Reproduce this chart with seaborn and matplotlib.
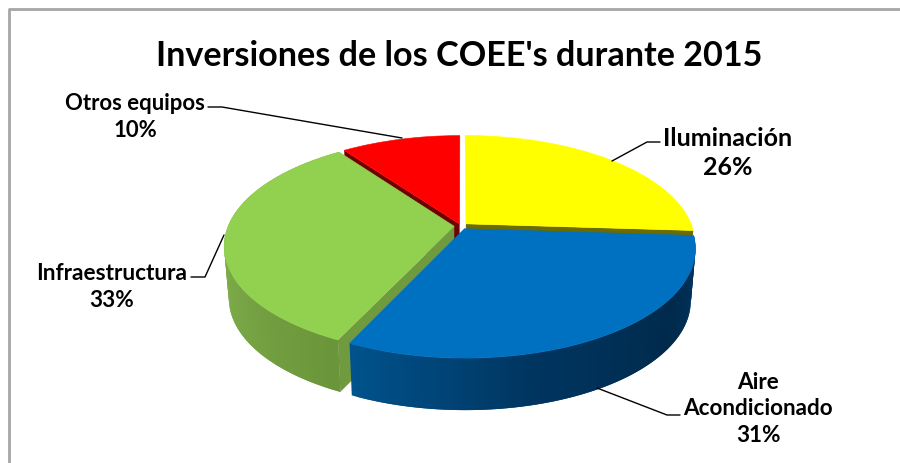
import numpy as np
import matplotlib
matplotlib.use("Agg")
import matplotlib.pyplot as plt
from matplotlib.transforms import Transform
import seaborn as sns

title = "Inversiones de los COEE's durante 2015"
labels = ["Iluminación", "Aire\nAcondicionado", "Infraestructura", "Otros equipos"]
values = [26, 31, 33, 10]
colors = ["#FFFF00", "#0070C0", "#92D050", "#FF0000"]
explode = [0.03, 0.03, 0.03, 0.02]

sns.set_theme(style="white")
plt.rcParams['font.family'] = ['Lato', 'DejaVu Sans']

# perspective of the tilted pie, pixels of the reference
CX, CY = 461, 227
RX, A, K = 226, 105, 0.18
DEPTH = 52


def project(u, v, low=False):
    w = 1 + K * v
    x = CX + RX * u / w
    y = CY - A * v / w
    if low:
        x = CX + (x - CX) * 0.98
        y = y + DEPTH
    return x, y


class Tilt(Transform):
    input_dims = output_dims = 2

    def transform_non_affine(self, values):
        x, y = project(values[:, 0], values[:, 1])
        return np.column_stack([x, y])


fig, ax = plt.subplots(figsize=(9, 4.64), dpi=100)
ax.set_position([0, 0, 1, 1])
wedges = ax.pie(values, colors=colors, startangle=90, counterclock=False,
                explode=explode, radius=1)[0]
ax.set_aspect("auto")
ax.set_xlim(0, 900)
ax.set_ylim(464, 0)
ax.axis("off")


def arc(w, t1, t2, n=4):
    t = np.radians(np.linspace(t1, t2, n))
    return w.center[0] + np.cos(t), w.center[1] + np.sin(t)


def wall(w, t1, t2, c):
    u, v = arc(w, t1, t2)
    x1, y1 = project(u, v)
    x2, y2 = project(u, v, low=True)
    ax.fill(np.r_[x1, x2[::-1]], np.r_[y1, y2[::-1]], color=c, lw=0, zorder=2)


def cut(w, t, c, z):
    u = np.array([w.center[0], arc(w, t, t)[0][0]])
    v = np.array([w.center[1], arc(w, t, t)[1][0]])
    x1, y1 = project(u, v)
    x2, y2 = project(u, v, low=True)
    ax.fill(np.r_[x1, x2[::-1]], np.r_[y1, y2[::-1]], color=c, lw=0, zorder=z)


def shaded(w, stops, c_stops):
    # each stripe runs on to the far end so no seams show between them
    edges = np.linspace(w.theta1, w.theta2, 90)
    rgb = np.array([matplotlib.colors.to_rgb(c) for c in c_stops])
    for a, b in zip(edges[:-1], edges[2:]):
        f = (a - w.theta1) / (w.theta2 - w.theta1)
        c = [np.interp(f, stops, rgb[:, i]) for i in range(3)]
        wall(w, a, b, c)
    wall(w, edges[-2], edges[-1], c)


yellow, blue, green, red = wedges
# theta runs counter clockwise from +x, so pick the end that faces the viewer
cut(yellow, yellow.theta1, "#6B6B00", 1)
cut(red, red.theta2, "#6E0000", 1)
cut(green, green.theta2, "#6F9A3E", 1.5)
# walls
shaded(green, [0, 0.45, 1], ["#84B44F", "#84B44F", "#6A9439"])
shaded(blue, [0, 0.35, 0.7, 1], ["#00538C", "#003560", "#002A4C", "#00345F"])

for w, c in zip(wedges, colors):
    w.set_transform(Tilt() + ax.transData)
    w.set_zorder(3)
    w.set_edgecolor(c)
    w.set_linewidth(0.4)
blue.set_zorder(3.5)

ax.text(459.5, 56, title, ha="center", va="center", fontsize=24.6,
        fontweight="bold", color="black")

label_xy = [(728, 153), (758, 409), (112, 287), (135, 117)]
label_size = [18, 16.2, 16.3, 15.9]
pct = [f"{v}%" for v in values]
for lab, p, (x, y), s in zip(labels, pct, label_xy, label_size):
    ax.text(x, y, f"{lab}\n{p}", ha="center", va="center", fontsize=s,
            fontweight="bold", color="black", linespacing=1.32)

leaders = [
    ([660, 647, 612], [143, 143, 162]),
    ([680, 667, 597], [416, 416, 389]),
    ([191, 205, 224], [278, 278, 236]),
    ([208, 222, 402], [108, 108, 139]),
]
for xs, ys in leaders:
    ax.plot(xs, ys, color="black", lw=1, zorder=4)

# chart frame, only top and left show
ax.plot([9, 9, 900], [464, 10, 10], color="#A6A6A6", lw=2, zorder=5)

fig.savefig("out.png", dpi=100)
